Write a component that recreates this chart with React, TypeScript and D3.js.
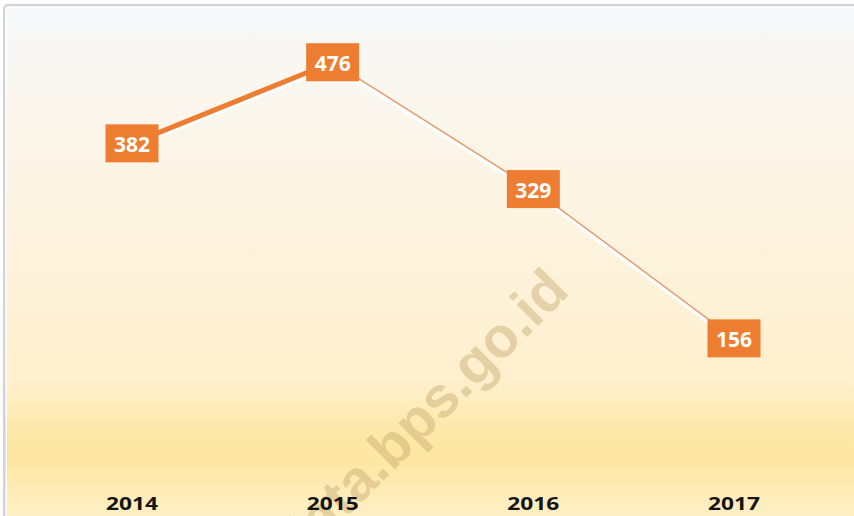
import React from "react";
import * as d3 from "d3";

const years = ["2014", "2015", "2016", "2017"];
const values = [382, 476, 329, 156];
const watermark = "data.bps.go.id";

const W = 854;
const H = 516;

export default function App() {
  const x = d3.scalePoint<string>().domain(years).range([132, 734]);
  const y = d3.scaleLinear().domain([0, 500]).range([473, 41.5]);
  const pts = years.map((yr, i) => ({ yr, v: values[i], px: x(yr) as number, py: y(values[i]) }));
  const line = d3.line<[number, number]>();
  const boxW = 53;
  const boxH = 38;
  return (
    <svg width={W} height={H} style={{ position: "absolute", left: 0, top: 0 }}>
      <defs>
        <linearGradient id="bg" x1="0" y1="0" x2="0" y2="1">
          <stop offset="0" stopColor="#f6f8fb" />
          <stop offset="0.15" stopColor="#faf7f0" />
          <stop offset="0.45" stopColor="#fdf3de" />
          <stop offset="0.72" stopColor="#feefcc" />
          <stop offset="0.8" stopColor="#fde9ac" />
          <stop offset="0.86" stopColor="#fde6a0" />
          <stop offset="0.92" stopColor="#feebb5" />
          <stop offset="1" stopColor="#fff1cc" />
        </linearGradient>
        <linearGradient id="drop" x1="0" y1="0" x2="0" y2="1">
          <stop offset="0" stopColor="#ffffff" stopOpacity="1" />
          <stop offset="1" stopColor="#ffffff" stopOpacity="0.6" />
        </linearGradient>
      </defs>
      <rect x={0} y={0} width={W} height={H} fill="#ffffff" />
      <rect x={4} y={5} width={W + 10} height={H + 10} rx={4} fill="url(#bg)" stroke="#d3d3d3" strokeWidth={2} />
      <rect x={6.5} y={7.5} width={W + 10} height={H + 10} rx={3} fill="none" stroke="#ffffff" strokeWidth={1} />

      {/* watermark */}
      <text
        transform="translate(298,566) rotate(-45)"
        fontFamily="Liberation Sans, Arial, sans-serif"
        fontWeight="bold"
        fontSize={57}
        fill="#c4a468"
        fillOpacity={0.42}
      >
        {watermark}
      </text>

      {/* drop lines */}
      {pts.map((p) => (
        <line key={"d" + p.yr} x1={p.px} x2={p.px} y1={p.py + boxH / 2} y2={466} stroke="url(#drop)" strokeWidth={3.5} />
      ))}

      {/* segments */}
      {pts.slice(0, -1).map((p, i) => {
        const q = pts[i + 1];
        const d = line([[p.px, p.py], [q.px, q.py]]) as string;
        const thick = i === 0;
        return (
          <g key={"s" + i}>
            <path d={d} transform="translate(0,2.5)" stroke="#ffffff" strokeWidth={thick ? 6 : 4.5} fill="none" />
            <path d={d} stroke={thick ? "#ed7d31" : "#e39a6c"} strokeWidth={thick ? 5 : 1.4} fill="none" />
          </g>
        );
      })}

      {/* value boxes */}
      {pts.map((p) => (
        <g key={"b" + p.yr}>
          <rect x={p.px - boxW / 2} y={p.py - boxH / 2} width={boxW} height={boxH} fill="#ed7d31" />
          <text
            x={p.px}
            y={p.py + 9}
            textAnchor="middle"
            fontFamily="Open Sans, sans-serif"
            fontWeight="bold"
            fontSize={22}
            fill="#ffffff"
            textLength={36}
            lengthAdjust="spacingAndGlyphs"
          >
            {p.v}
          </text>
        </g>
      ))}

      {/* x labels */}
      {pts.map((p) => (
        <text
          key={"l" + p.yr}
          x={p.px}
          y={509.5}
          textAnchor="middle"
          fontFamily="Open Sans, sans-serif"
          fontWeight="bold"
          fontSize={18}
          fill="#141414"
          textLength={52}
          lengthAdjust="spacingAndGlyphs"
        >
          {p.yr}
        </text>
      ))}
    </svg>
  );
}
